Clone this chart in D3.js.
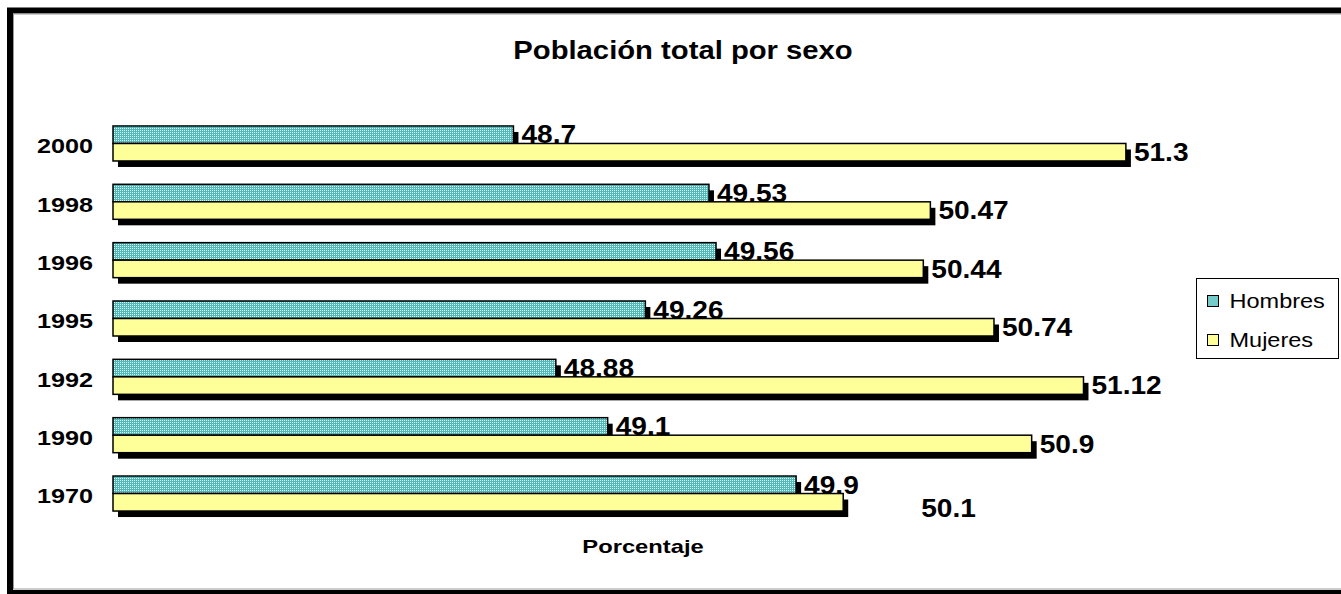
<!DOCTYPE html>
<html>
<head>
<meta charset="utf-8">
<script src="https://cdn.jsdelivr.net/npm/d3@7"></script>
<style>
  body { margin: 0; background: #fff; }
  text { font-family: Arial, "Liberation Sans", sans-serif; fill: #000; }
</style>
</head>
<body>
<script>
// Poblacion total por sexo - horizontal bars, two series per year

var years = ['1970', '1990', '1992', '1995', '1996', '1998', '2000'];
var hombres = [49.9, 49.1, 48.88, 49.26, 49.56, 49.53, 48.7];
var mujeres = [50.1, 50.9, 51.12, 50.74, 50.44, 50.47, 51.3];
var seriesNames = ['Hombres', 'Mujeres'];
var titleText = 'Población total por sexo';
var axisTitle = 'Porcentaje';

var W = 1341, H = 594;

var rows = [];
years.forEach(function (y, i) {
  rows.push({year: y, serie: 'Hombres', value: hombres[i]});
  rows.push({year: y, serie: 'Mujeres', value: mujeres[i]});
});

var xScale = d3.scaleLinear()
    .domain([47, 51.5])
    .range([113, 1173]);

var yScale = d3.scaleBand()
    .domain(years.slice().reverse())
    .range([114.3, 522.7])
    .paddingInner(0.4)
    .paddingOuter(0.2);

var sub = d3.scaleBand()
    .domain(seriesNames)
    .range([0, yScale.bandwidth()]);

var fills = {Hombres: 'url(#dots)', Mujeres: '#ffff99'};

var svg = d3.select('body').append('svg')
    .attr('width', W)
    .attr('height', H);

// dotted teal pattern
var pat = svg.append('defs').append('pattern')
    .attr('id', 'dots')
    .attr('width', 2)
    .attr('height', 2)
    .attr('patternUnits', 'userSpaceOnUse');
pat.append('rect').attr('width', 2).attr('height', 2).attr('fill', '#4fbaba');
pat.append('rect').attr('width', 1).attr('height', 1).attr('fill', '#e6fafa');

// outer frame (cut at the right edge)
svg.append('rect')
    .attr('x', 10).attr('y', 10.5)
    .attr('width', 1400).attr('height', 582.5)
    .attr('fill', '#fff')
    .attr('stroke', '#000')
    .attr('stroke-width', 6);
svg.append('rect')
    .attr('x', 13.5).attr('y', 14)
    .attr('width', 1400).attr('height', 575)
    .attr('fill', 'none')
    .attr('stroke', '#999')
    .attr('stroke-width', 1);

// title
svg.append('text')
    .attr('transform', 'translate(683,59) scale(1.17,1)')
    .attr('text-anchor', 'middle')
    .attr('font-size', '25px')
    .attr('font-weight', 'bold')
    .text(titleText);

// shadows
svg.append('g').selectAll('rect')
  .data(rows)
  .enter()
  .append('rect')
  .attr('x', xScale(47) + 5)
  .attr('y', function (d) {
    return yScale(d.year) + sub(d.serie) + 6;
  })
  .attr('width', function (d) {
    return xScale(d.value) - xScale(47);
  })
  .attr('height', sub.bandwidth())
  .attr('fill', '#000');

// bars
svg.append('g').selectAll('rect')
  .data(rows)
  .enter()
  .append('rect')
  .attr('x', xScale(47))
  .attr('y', function (d) {
    return yScale(d.year) + sub(d.serie);
  })
  .attr('width', function (d) {
    return xScale(d.value) - xScale(47);
  })
  .attr('height', sub.bandwidth())
  .attr('fill', function (d) {
    return fills[d.serie];
  })
  .attr('stroke', '#000')
  .attr('stroke-width', 1.5);

// value labels; the 1970 women's label sits off on its own in the original
var nudge = {'1970|Mujeres': [70, 6]};

svg.append('g').selectAll('text')
  .data(rows)
  .enter()
  .append('text')
  .attr('transform', function (d) {
    var n = nudge[d.year + '|' + d.serie] || [0, 0];
    var x = xScale(d.value) + 8 + n[0];
    var y = yScale(d.year) + sub(d.serie) + sub.bandwidth() + n[1];
    return 'translate(' + x + ',' + y + ') scale(1.08,1)';
  })
  .attr('font-size', '26px')
  .attr('font-weight', 'bold')
  .text(function (d) {
    return d.value;
  });

// year labels
var yAxis = d3.axisLeft(yScale).tickSize(0).tickPadding(0);
var yg = svg.append('g')
    .attr('transform', 'translate(93,3)')
    .call(yAxis);
yg.select('.domain').remove();
yg.selectAll('text')
    .attr('x', 0)
    .attr('font-size', '21px')
    .attr('font-weight', 'bold')
    .attr('font-family', 'Arial, "Liberation Sans", sans-serif')
    .attr('transform', 'scale(1.2,1)')
    .style('transform-origin', '0 0');

// axis title
svg.append('text')
    .attr('transform', 'translate(643,553) scale(1.25,1)')
    .attr('text-anchor', 'middle')
    .attr('font-size', '19px')
    .attr('font-weight', 'bold')
    .text(axisTitle);

// legend
var lg = svg.append('g');
lg.append('rect')
    .attr('x', 1196.5).attr('y', 278.5)
    .attr('width', 142).attr('height', 80)
    .attr('fill', '#fff')
    .attr('stroke', '#000')
    .attr('stroke-width', 1);

var item = lg.selectAll('g.item')
  .data(seriesNames)
  .enter()
  .append('g')
  .attr('class', 'item')
  .attr('transform', function (d, i) {
    return 'translate(1207.5,' + (295.5 + i * 39) + ')';
  });

item.append('rect')
    .attr('width', 11)
    .attr('height', 11)
    .attr('fill', function (d) {
      return fills[d];
    })
    .attr('stroke', '#000')
    .attr('stroke-width', 1);

item.append('text')
    .attr('transform', 'translate(22,12) scale(1.12,1)')
    .attr('font-size', '21px')
    .text(function (d) {
      return d;
    });
</script>
</body>
</html>
